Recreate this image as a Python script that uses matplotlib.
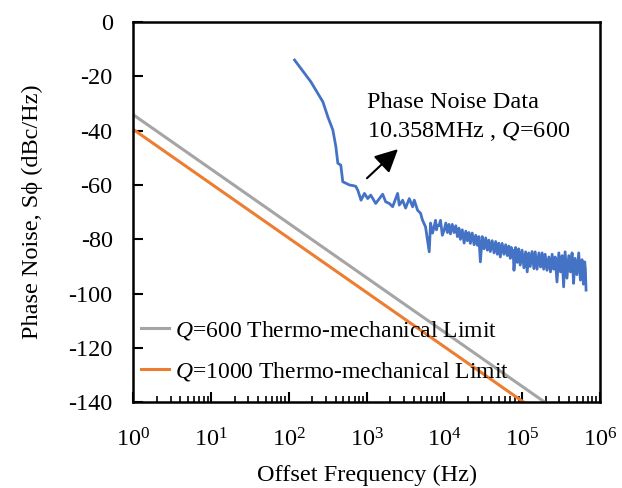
import matplotlib
matplotlib.use('Agg')
import matplotlib.pyplot as plt
from matplotlib.ticker import LogLocator, NullFormatter

freq_low = [118, 191, 273, 316, 367, 401, 425, 464, 492, 600, 662, 723, 767, 845, 935,
            1030, 1125, 1305, 1603, 1753, 1955, 2154, 2355, 2496, 2624, 2895, 3162, 3527,
            3890, 4090, 4507, 4923, 5224, 5705, 6364, 6619, 6816, 7020, 7340, 7674, 7898,
            8128, 8501, 8892, 9387, 9910]
pn_low = [-14.0, -22.0, -29.4, -34.9, -39.8, -45.9, -52.0, -52.7, -58.8, -60.0, -60.2, -60.5,
          -61.9, -65.6, -63.1, -65.0, -63.7, -66.8, -63.4, -66.2, -66.8, -68.0, -65.0, -63.1,
          -67.4, -65.6, -68.5, -65.0, -68.0, -65.6, -69.3, -70.4, -73.0, -75.4, -84.6, -74.0,
          -76.0, -77.7, -75.5, -73.0, -76.5, -74.8, -75.0, -73.0, -78.5, -76.6]

# noisy part above 10 kHz
freq_high = [10400, 10920, 11420, 11940, 12600, 13310, 13980, 14680, 15340, 16040, 16940,
             17900, 18790, 19720, 20610, 21540, 22760, 24040, 25240, 26490, 27690, 28950,
             30580, 32300, 33900, 35570, 37190, 38890, 41070, 43380, 45520, 47770, 49950,
             52230, 55150, 58240, 61160, 64230, 67150, 70200, 72300, 74470, 76360, 78300,
             82200, 86300, 90160, 94200, 99500, 105100, 110400, 115900, 121200, 126700,
             133800, 141300, 146800, 155100, 163800, 171900, 180300, 188600, 197200, 208200,
             219900, 230900, 242500, 253500, 265000, 279900, 295600, 310500, 326100, 340700,
             356000, 376000, 397000, 416800, 437700, 457400, 477900, 504700, 533000, 559600,
             587600, 611500, 636400, 649000, 662000]
pn_high = [-74.0, -77.5, -74.5, -78.0, -74.5, -77.5, -75.0, -79.0, -75.9, -80.0, -76.5,
           -81.4, -77.0, -80.5, -77.5, -81.5, -77.7, -82.0, -78.5, -82.2, -79.0, -88.3,
           -79.0, -83.5, -79.5, -84.0, -80.3, -84.5, -80.5, -85.0, -80.8, -85.5, -81.4,
           -86.5, -81.5, -85.5, -82.0, -86.0, -82.5, -87.0, -83.0, -86.5, -84.0, -91.4,
           -83.0, -88.5, -83.5, -89.5, -84.0, -90.5, -84.6, -92.0, -85.0, -90.0,
           -84.5, -90.8, -84.6, -91.0, -85.0, -90.2, -85.0, -91.0, -85.5, -91.4,
           -86.5, -92.0, -85.5, -91.0, -86.5, -95.7, -85.0, -92.0, -86.0, -97.5,
           -84.6, -94.3, -86.0, -92.0, -85.0, -96.2, -87.0, -93.0, -85.0, -95.0,
           -87.5, -96.5, -88.3, -91.0, -98.7]

# thermo-mechanical limits (straight lines on log axis)
freq_q600 = [1, 1.96e5]
pn_q600 = [-34.2, -140]
freq_q1000 = [1, 1.05e5]
pn_q1000 = [-39.6, -140]

plt.rcParams['font.family'] = ['Liberation Serif', 'DejaVu Serif']
plt.rcParams['mathtext.fontset'] = 'custom'
plt.rcParams['mathtext.rm'] = 'Liberation Serif'
plt.rcParams['mathtext.it'] = 'Liberation Serif:italic'
plt.rcParams['axes.unicode_minus'] = False
plt.rcParams['font.size'] = 17.5

fig = plt.figure(figsize=(6.22, 4.88), dpi=100)
ax = fig.add_axes([0.2146, 0.1756, 0.75, 0.7793])

ax.plot(freq_low + freq_high, pn_low + pn_high, color='#4472C4', lw=2.0)
ax.plot(freq_q600, pn_q600, color='#A5A5A5', lw=2.2, label='$Q$=600 Thermo-mechanical Limit')
ax.plot(freq_q1000, pn_q1000, color='#ED7D31', lw=2.2, label='$Q$=1000 Thermo-mechanical Limit')

ax.set_xscale('log')
ax.set_xlim(1, 1e6)
ax.set_ylim(-140, 0)
ax.set_yticks(range(-140, 1, 20))
ax.xaxis.set_major_locator(LogLocator(base=10, numticks=10))
ax.xaxis.set_minor_locator(LogLocator(base=10, subs=range(2, 10), numticks=10))
ax.xaxis.set_minor_formatter(NullFormatter())

ax.tick_params(which='major', direction='in', length=7, width=1.5)
ax.tick_params(which='minor', direction='in', length=4, width=1.2)
ax.tick_params(axis='x', pad=19)
ax.tick_params(axis='y', pad=15)
for s in ax.spines.values():
    s.set_linewidth(1.8)

ax.set_xlabel('Offset Frequency (Hz)', labelpad=9)
ax.set_ylabel('Phase Noise, S\u03d5 (dBc/Hz)', labelpad=18)

ax.text(1000, -31.8, 'Phase Noise Data')
ax.text(1000, -42.3, '10.358MHz , $Q$=600')
ax.annotate('', xy=(2677, -46.1), xytext=(949, -58.2),
            arrowprops=dict(arrowstyle='-|>,head_length=0.7,head_width=0.35',
                            color='black', lw=1.5, mutation_scale=20))

ax.legend(loc='lower left', bbox_to_anchor=(-0.03, -0.005), frameon=False, fontsize=17,
          handlelength=1.2, handletextpad=0.25, labelspacing=0.75)

plt.savefig('out.png', dpi=100)
